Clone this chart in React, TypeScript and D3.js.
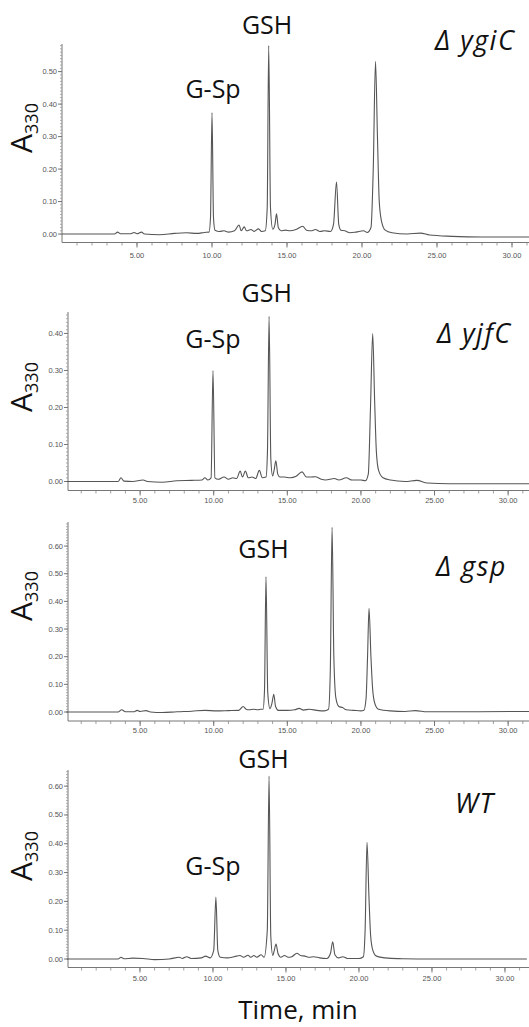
import React, { useEffect, useRef } from 'react';
import * as d3 from 'd3';

const width = 529;
const height = 1027;

// retention time (min), absorbance at 330 nm
const traceYgiC: [number, number][] = [
  [0, 0], [3.5, 0], [3.7, 0.006], [3.9, 0.001], [4.6, 0.001], [4.8, 0.005], [5.0, 0.001], [5.3, 0.006], [5.5, 0],
  [6.5, -0.002], [7.5, 0.002], [8.3, 0.004], [9.0, 0.002], [9.5, 0.005], [9.8, 0.006],
  [9.9, 0.05], [10.0, 0.374], [10.1, 0.05], [10.2, 0.012],
  [10.5, 0.008], [10.8, 0.01], [11.1, 0.006], [11.5, 0.01], [11.8, 0.028], [11.95, 0.01], [12.15, 0.022], [12.3, 0.01],
  [12.6, 0.014], [12.8, 0.008], [13.1, 0.016], [13.3, 0.008], [13.55, 0.01],
  [13.68, 0.08], [13.78, 0.58], [13.9, 0.08], [14.05, 0.015], [14.2, 0.03], [14.3, 0.062], [14.42, 0.02], [14.6, 0.01],
  [14.9, 0.012], [15.2, 0.01], [15.6, 0.014], [16.05, 0.024], [16.3, 0.012], [16.6, 0.01], [16.9, 0.014], [17.2, 0.008],
  [17.5, 0.01], [17.9, 0.008], [18.1, 0.03], [18.3, 0.16], [18.45, 0.03], [18.6, 0.012], [18.85, 0.01], [19.2, 0.004],
  [19.6, 0.006], [20.1, 0.01], [20.35, 0.005], [20.6, 0.02], [20.75, 0.2], [20.9, 0.532], [21.03, 0.3], [21.15, 0.1],
  [21.3, 0.04], [21.55, 0.012], [22.0, 0.004], [23.0, 0], [23.9, 0.003], [24.5, -0.003], [26, -0.007], [28, -0.009], [31.5, -0.009],
];

const traceYjfC: [number, number][] = [
  [0, 0], [3.5, 0], [3.7, 0.01], [3.9, 0.001], [4.5, 0], [5.2, 0.004], [5.5, 0], [6.5, -0.002], [7.5, 0.002], [8.5, 0.003],
  [9.2, 0.004], [9.4, 0.01], [9.6, 0.004], [9.82, 0.01], [9.95, 0.3], [10.08, 0.01], [10.3, 0.006], [10.7, 0.012],
  [11.0, 0.006], [11.3, 0.01], [11.55, 0.008], [11.8, 0.028], [11.95, 0.012], [12.15, 0.028], [12.35, 0.01], [12.6, 0.012],
  [12.85, 0.008], [13.1, 0.03], [13.3, 0.01], [13.55, 0.012], [13.65, 0.08], [13.76, 0.446], [13.88, 0.06], [14.0, 0.015],
  [14.1, 0.03], [14.22, 0.056], [14.35, 0.02], [14.5, 0.012], [14.8, 0.012], [15.2, 0.01], [15.6, 0.014], [16.0, 0.026],
  [16.3, 0.012], [16.6, 0.012], [16.9, 0.013], [17.3, 0.006], [17.6, 0.004], [18.2, 0.008], [18.5, 0.004], [19.0, 0.01],
  [19.4, 0.004], [20.0, 0.004], [20.3, 0.002], [20.5, 0.02], [20.65, 0.2], [20.8, 0.4], [20.93, 0.22], [21.05, 0.08],
  [21.2, 0.03], [21.5, 0.01], [22, 0.004], [23, 0], [23.8, 0.003], [24.5, -0.004], [26, -0.006], [31.5, -0.006],
];

const traceGsp: [number, number][] = [
  [0, 0], [3.5, 0], [3.75, 0.008], [4.0, 0.001], [4.6, 0.001], [4.8, 0.006], [5.0, 0.002], [5.4, 0.005], [5.7, 0],
  [6.5, -0.002], [7.5, 0.001], [8.5, 0.003], [9.4, 0.006], [10.2, 0.004], [11.0, 0.005], [11.7, 0.006], [12.0, 0.02],
  [12.2, 0.01], [12.4, 0.008], [12.7, 0.01], [13.0, 0.008], [13.2, 0.01], [13.35, 0.01], [13.45, 0.08], [13.55, 0.49],
  [13.67, 0.07], [13.82, 0.012], [13.95, 0.03], [14.08, 0.064], [14.2, 0.02], [14.4, 0.006], [15.0, 0.006], [15.5, 0.008],
  [15.8, 0.013], [16.1, 0.007], [16.5, 0.01], [17.0, 0.006], [17.5, 0.004], [17.8, 0.01], [17.92, 0.15], [18.04, 0.668],
  [18.16, 0.2], [18.3, 0.05], [18.5, 0.02], [18.75, 0.016], [19.0, 0.008], [19.5, 0.006], [20.0, 0.004], [20.2, 0.006],
  [20.35, 0.05], [20.45, 0.2], [20.55, 0.375], [20.68, 0.2], [20.8, 0.08], [20.95, 0.03], [21.2, 0.01], [22, 0.004],
  [23, 0.002], [23.7, 0.005], [24.5, 0.001], [26, 0.001], [31.5, 0.002],
];

const traceWT: [number, number][] = [
  [0, 0], [3.5, 0], [3.7, 0.006], [3.9, 0.001], [4.5, 0.003], [5.2, 0.002], [6, -0.002], [7.0, 0], [7.7, 0.006],
  [7.9, 0.002], [8.2, 0.008], [8.5, 0.002], [9.2, 0.004], [9.5, 0.01], [9.8, 0.004], [10.05, 0.03], [10.2, 0.215],
  [10.33, 0.03], [10.5, 0.006], [11.0, 0.004], [11.3, 0.006], [11.6, 0.01], [11.85, 0.012], [12.1, 0.006], [12.4, 0.013],
  [12.6, 0.006], [12.8, 0.012], [13.0, 0.006], [13.3, 0.015], [13.5, 0.006], [13.72, 0.1], [13.84, 0.635], [13.96, 0.08],
  [14.1, 0.012], [14.2, 0.03], [14.32, 0.052], [14.45, 0.02], [14.65, 0.006], [14.9, 0.012], [15.15, 0.006], [15.4, 0.008],
  [15.75, 0.02], [16.0, 0.012], [16.3, 0.01], [16.6, 0.006], [16.9, 0.008], [17.3, 0.004], [17.8, 0.002], [18.05, 0.02],
  [18.2, 0.06], [18.35, 0.015], [18.6, 0.004], [18.9, 0.008], [19.2, 0.002], [20.0, 0.002], [20.3, 0.008], [20.42, 0.1],
  [20.55, 0.405], [20.68, 0.22], [20.8, 0.08], [20.95, 0.03], [21.2, 0.01], [22, 0.003], [23, 0.001], [25, 0], [31.5, 0],
];

const strainNames = ['Δ ygiC', 'Δ yjfC', 'Δ gsp', 'WT'];
const traces = [traceYgiC, traceYjfC, traceGsp, traceWT];
const yTickValues = [
  [0, 0.1, 0.2, 0.3, 0.4, 0.5],
  [0, 0.1, 0.2, 0.3, 0.4],
  [0, 0.1, 0.2, 0.3, 0.4, 0.5, 0.6],
  [0, 0.1, 0.2, 0.3, 0.4, 0.5, 0.6],
];
const xTickValues = [5, 10, 15, 20, 25, 30];

// peak labels: [text, time, absorbance at the label baseline]
const peakLabels: [string, number, number][][] = [
  [['GSH', 13.67, 0.615], ['G-Sp', 10.07, 0.42]],
  [['GSH', 13.6, 0.485], ['G-Sp', 9.95, 0.361]],
  [['GSH', 13.38, 0.557]],
  [['GSH', 13.46, 0.663], ['G-Sp', 10.0, 0.292]],
];

// pixel frame of each panel
const panels = [
  { left: 62, t0: 0, ppm: 15, top: 44, bottom: 242.5, yTop: 0.585, yBottom: -0.026, nameX: 435, nameY: 50, labelY: 128, tickDy: 15 },
  { left: 68, t0: 0.1, ppm: 14.72, top: 312, bottom: 490.5, yTop: 0.458, yBottom: -0.0243, nameX: 437, nameY: 343, labelY: 387, tickDy: 12 },
  { left: 68, t0: 0.1, ppm: 14.72, top: 522, bottom: 721, yTop: 0.687, yBottom: -0.0325, nameX: 436, nameY: 576, labelY: 596, tickDy: 12 },
  { left: 68, t0: 0.07, ppm: 14.6, top: 770, bottom: 967.5, yTop: 0.656, yBottom: -0.0295, nameX: 455, nameY: 813, labelY: 856, tickDy: 13 },
];

const axisColor = '#777';
const traceColor = '#555';

export default function App() {
  const ref = useRef<SVGSVGElement | null>(null);

  useEffect(() => {
    const svg = d3.select(ref.current);
    svg.selectAll('*').remove();

    panels.forEach((p, i) => {
      const g = svg.append('g');
      const x = d3.scaleLinear()
        .domain([p.t0, p.t0 + (width - p.left) / p.ppm])
        .range([p.left, width]);
      const y = d3.scaleLinear().domain([p.yBottom, p.yTop]).range([p.bottom, p.top]);

      // y axis
      g.append('line')
        .attr('x1', p.left).attr('x2', p.left)
        .attr('y1', p.top).attr('y2', p.bottom)
        .attr('stroke', axisColor).attr('stroke-width', 1);
      const minor = d3.range(0, p.yTop, 0.01);
      g.selectAll('.ym').data(minor).enter().append('line')
        .attr('x1', p.left - 2).attr('x2', p.left)
        .attr('y1', d => y(d)).attr('y2', d => y(d))
        .attr('stroke', '#999').attr('stroke-width', 0.8);
      g.selectAll('.yM').data(yTickValues[i]).enter().append('line')
        .attr('x1', p.left - 4).attr('x2', p.left)
        .attr('y1', d => y(d)).attr('y2', d => y(d))
        .attr('stroke', axisColor).attr('stroke-width', 1);
      g.selectAll('.yl').data(yTickValues[i]).enter().append('text')
        .attr('x', p.left - 5).attr('y', d => y(d) + 2.5)
        .attr('text-anchor', 'end')
        .attr('font-family', 'Liberation Sans, Arial, sans-serif')
        .attr('font-size', 7.5)
        .attr('fill', '#555')
        .text(d => d3.format('.2f')(d));

      // x axis
      g.append('line')
        .attr('x1', p.left).attr('x2', width)
        .attr('y1', p.bottom).attr('y2', p.bottom)
        .attr('stroke', axisColor).attr('stroke-width', 1);
      const xMinor = d3.range(1, 32, 1);
      g.selectAll('.xm').data(xMinor).enter().append('line')
        .attr('x1', d => x(d)).attr('x2', d => x(d))
        .attr('y1', p.bottom).attr('y2', p.bottom + 3)
        .attr('stroke', '#888').attr('stroke-width', 0.8);
      g.selectAll('.xM').data(xTickValues).enter().append('line')
        .attr('x1', d => x(d)).attr('x2', d => x(d))
        .attr('y1', p.bottom).attr('y2', p.bottom + 5)
        .attr('stroke', axisColor).attr('stroke-width', 1);
      g.selectAll('.xl').data(xTickValues).enter().append('text')
        .attr('x', d => x(d)).attr('y', p.bottom + p.tickDy)
        .attr('text-anchor', 'middle')
        .attr('font-family', 'Liberation Sans, Arial, sans-serif')
        .attr('font-size', 7.5)
        .attr('fill', '#555')
        .text(d => d3.format('.2f')(d));

      // trace
      const line = d3.line<[number, number]>()
        .x(d => x(d[0]))
        .y(d => y(d[1]))
        .curve(d3.curveMonotoneX);
      g.append('path')
        .attr('d', line(traces[i]))
        .attr('fill', 'none')
        .attr('stroke', traceColor)
        .attr('stroke-width', 1.1);

      // peak labels
      peakLabels[i].forEach(([txt, t, a]) => {
        g.append('text')
          .attr('x', x(t)).attr('y', y(a))
          .attr('text-anchor', 'middle')
          .attr('font-family', 'Open Sans, sans-serif')
          .attr('font-size', 25)
          .attr('fill', '#111')
          .text(txt);
      });

      // strain name
      g.append('text')
        .attr('x', p.nameX).attr('y', p.nameY)
        .attr('font-family', 'Open Sans, sans-serif')
        .attr('font-style', 'italic')
        .attr('font-size', 27)
        .attr('letter-spacing', 1.5)
        .attr('fill', '#111')
        .text(strainNames[i]);

      // A330
      const lab = g.append('text')
        .attr('transform', `translate(32,${p.labelY}) rotate(-90)`)
        .attr('text-anchor', 'middle')
        .attr('font-family', 'Open Sans, sans-serif')
        .attr('fill', '#111');
      lab.append('tspan').attr('font-size', 30).text('A');
      lab.append('tspan').attr('font-size', 18).attr('dy', 6).text('330');
    });

    svg.append('text')
      .attr('x', 298).attr('y', 1019)
      .attr('text-anchor', 'middle')
      .attr('font-family', 'Open Sans, sans-serif')
      .attr('font-size', 26)
      .attr('fill', '#111')
      .text('Time, min');
  }, []);

  return (
    <svg
      ref={ref}
      width={width}
      height={height}
      style={{ position: 'absolute', left: 0, top: 0, background: '#fff' }}
    />
  );
}
